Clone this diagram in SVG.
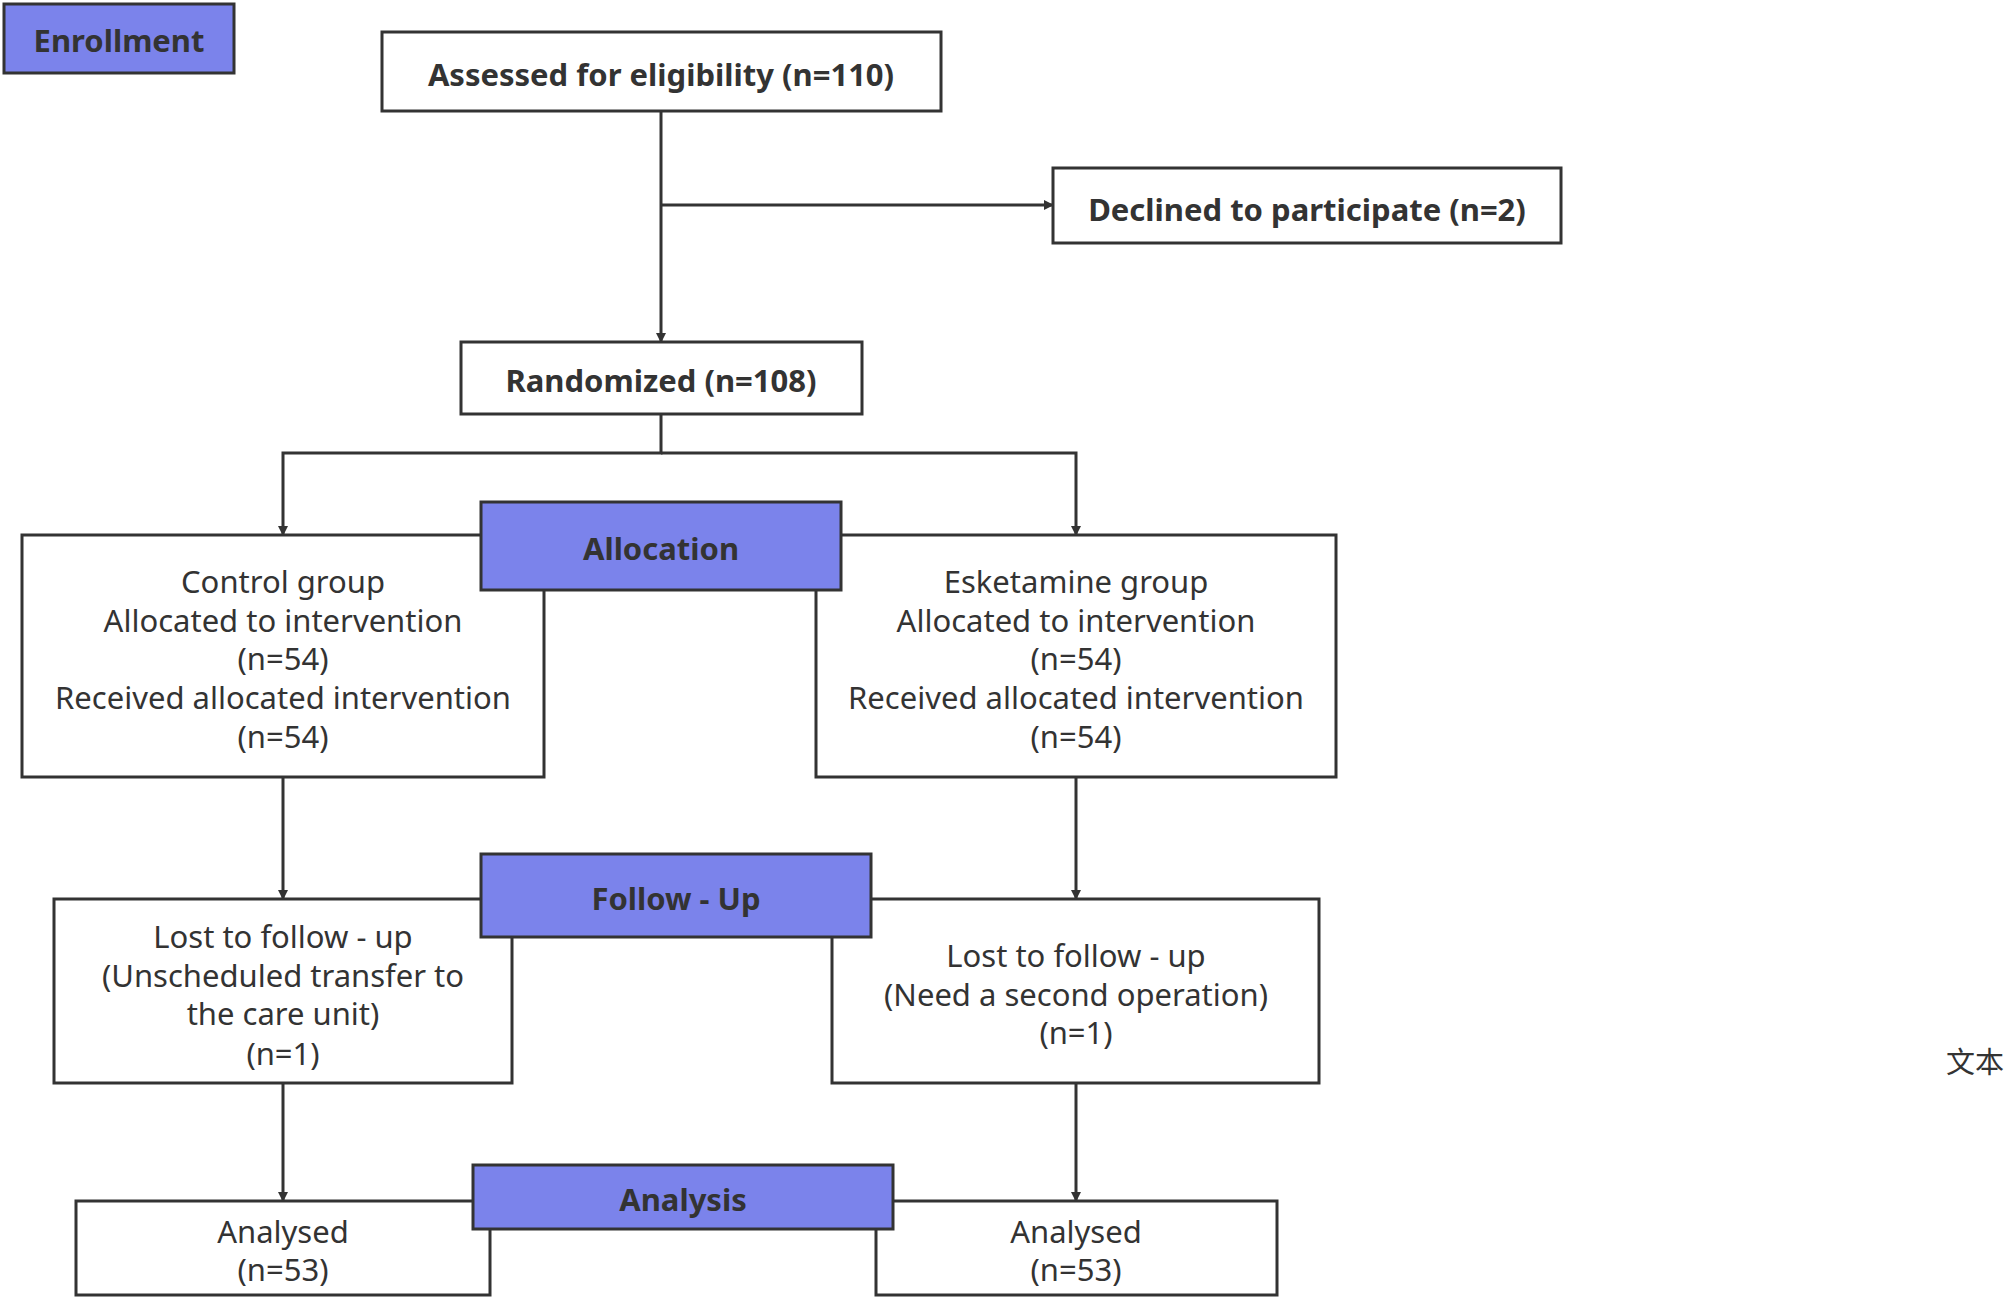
<svg xmlns="http://www.w3.org/2000/svg" width="2008" height="1299" viewBox="0 0 2008 1299">
<style>
.b{fill:#fff;stroke:#333;stroke-width:3}
.h{fill:#7b83eb;stroke:#333;stroke-width:3}
text{font-family:"Noto Sans","Open Sans",sans-serif;fill:#333;text-anchor:middle;dominant-baseline:central}
.t{font-size:31px;font-weight:bold}
.n{font-size:31px}
.c{stroke:#333;stroke-width:3;fill:none}
</style>
<defs><marker id="a" markerWidth="10" markerHeight="10" refX="9" refY="5" orient="auto" markerUnits="userSpaceOnUse" viewBox="0 0 10 10"><path d="M0,0L10,5L0,10z" fill="#333"/></marker></defs>
<rect width="2008" height="1299" fill="#fff"/>
<g id="connectors">
<path class="c" d="M661,111V342" marker-end="url(#a)" style="marker-end:url(#a)"/>
<path class="c" d="M661,205H1053" marker-end="url(#a)"/>
<path class="c" d="M661,414V453H283V535" marker-end="url(#a)"/>
<path class="c" d="M661,453H1076V535" marker-end="url(#a)"/>
<path class="c" d="M283,777V899" marker-end="url(#a)"/>
<path class="c" d="M1076,777V899" marker-end="url(#a)"/>
<path class="c" d="M283,1083V1201" marker-end="url(#a)"/>
<path class="c" d="M1076,1083V1201" marker-end="url(#a)"/>
</g>
<g id="enrollment"><rect class="h" x="4" y="4" width="230" height="69"/><text class="t" x="119" y="40">Enrollment</text></g>
<g id="assessed"><rect class="b" x="382" y="32" width="559" height="79"/><text class="t" x="661" y="74">Assessed for eligibility (n=110)</text></g>
<g id="declined"><rect class="b" x="1053" y="168" width="508" height="75"/><text class="t" x="1307" y="209">Declined to participate (n=2)</text></g>
<g id="randomized"><rect class="b" x="461" y="342" width="401" height="72"/><text class="t" x="661" y="380">Randomized (n=108)</text></g>
<g id="control"><rect class="b" x="22" y="535" width="522" height="242"/>
<text class="n" x="283" y="581">Control group</text><text class="n" x="283" y="620">Allocated to intervention</text><text class="n" x="283" y="658">(n=54)</text><text class="n" x="283" y="697">Received allocated intervention</text><text class="n" x="283" y="736">(n=54)</text></g>
<g id="esketamine"><rect class="b" x="816" y="535" width="520" height="242"/>
<text class="n" x="1076" y="581">Esketamine group</text><text class="n" x="1076" y="620">Allocated to intervention</text><text class="n" x="1076" y="658">(n=54)</text><text class="n" x="1076" y="697">Received allocated intervention</text><text class="n" x="1076" y="736">(n=54)</text></g>
<g id="allocation"><rect class="h" x="481" y="502" width="360" height="88"/><text class="t" x="661" y="548">Allocation</text></g>
<g id="lostleft"><rect class="b" x="54" y="899" width="458" height="184"/>
<text class="n" x="283" y="936">Lost to follow - up</text><text class="n" x="283" y="975">(Unscheduled transfer to</text><text class="n" x="283" y="1013">the care unit)</text><text class="n" x="283" y="1053">(n=1)</text></g>
<g id="lostright"><rect class="b" x="832" y="899" width="487" height="184"/>
<text class="n" x="1076" y="955">Lost to follow - up</text><text class="n" x="1076" y="994">(Need a second operation)</text><text class="n" x="1076" y="1032">(n=1)</text></g>
<g id="followup"><rect class="h" x="481" y="854" width="390" height="83"/><text class="t" x="676" y="898">Follow - Up</text></g>
<g id="analysedleft"><rect class="b" x="76" y="1201" width="414" height="94"/><text class="n" x="283" y="1231">Analysed</text><text class="n" x="283" y="1269">(n=53)</text></g>
<g id="analysedright"><rect class="b" x="876" y="1201" width="401" height="94"/><text class="n" x="1076" y="1231">Analysed</text><text class="n" x="1076" y="1269">(n=53)</text></g>
<g id="analysis"><rect class="h" x="473" y="1165" width="420" height="64"/><text class="t" x="683" y="1199">Analysis</text></g>
<g id="label"><text class="n" x="1975" y="1060" style="font-family:'Noto Sans CJK SC',sans-serif;font-size:29px">文本</text></g>
</svg>
